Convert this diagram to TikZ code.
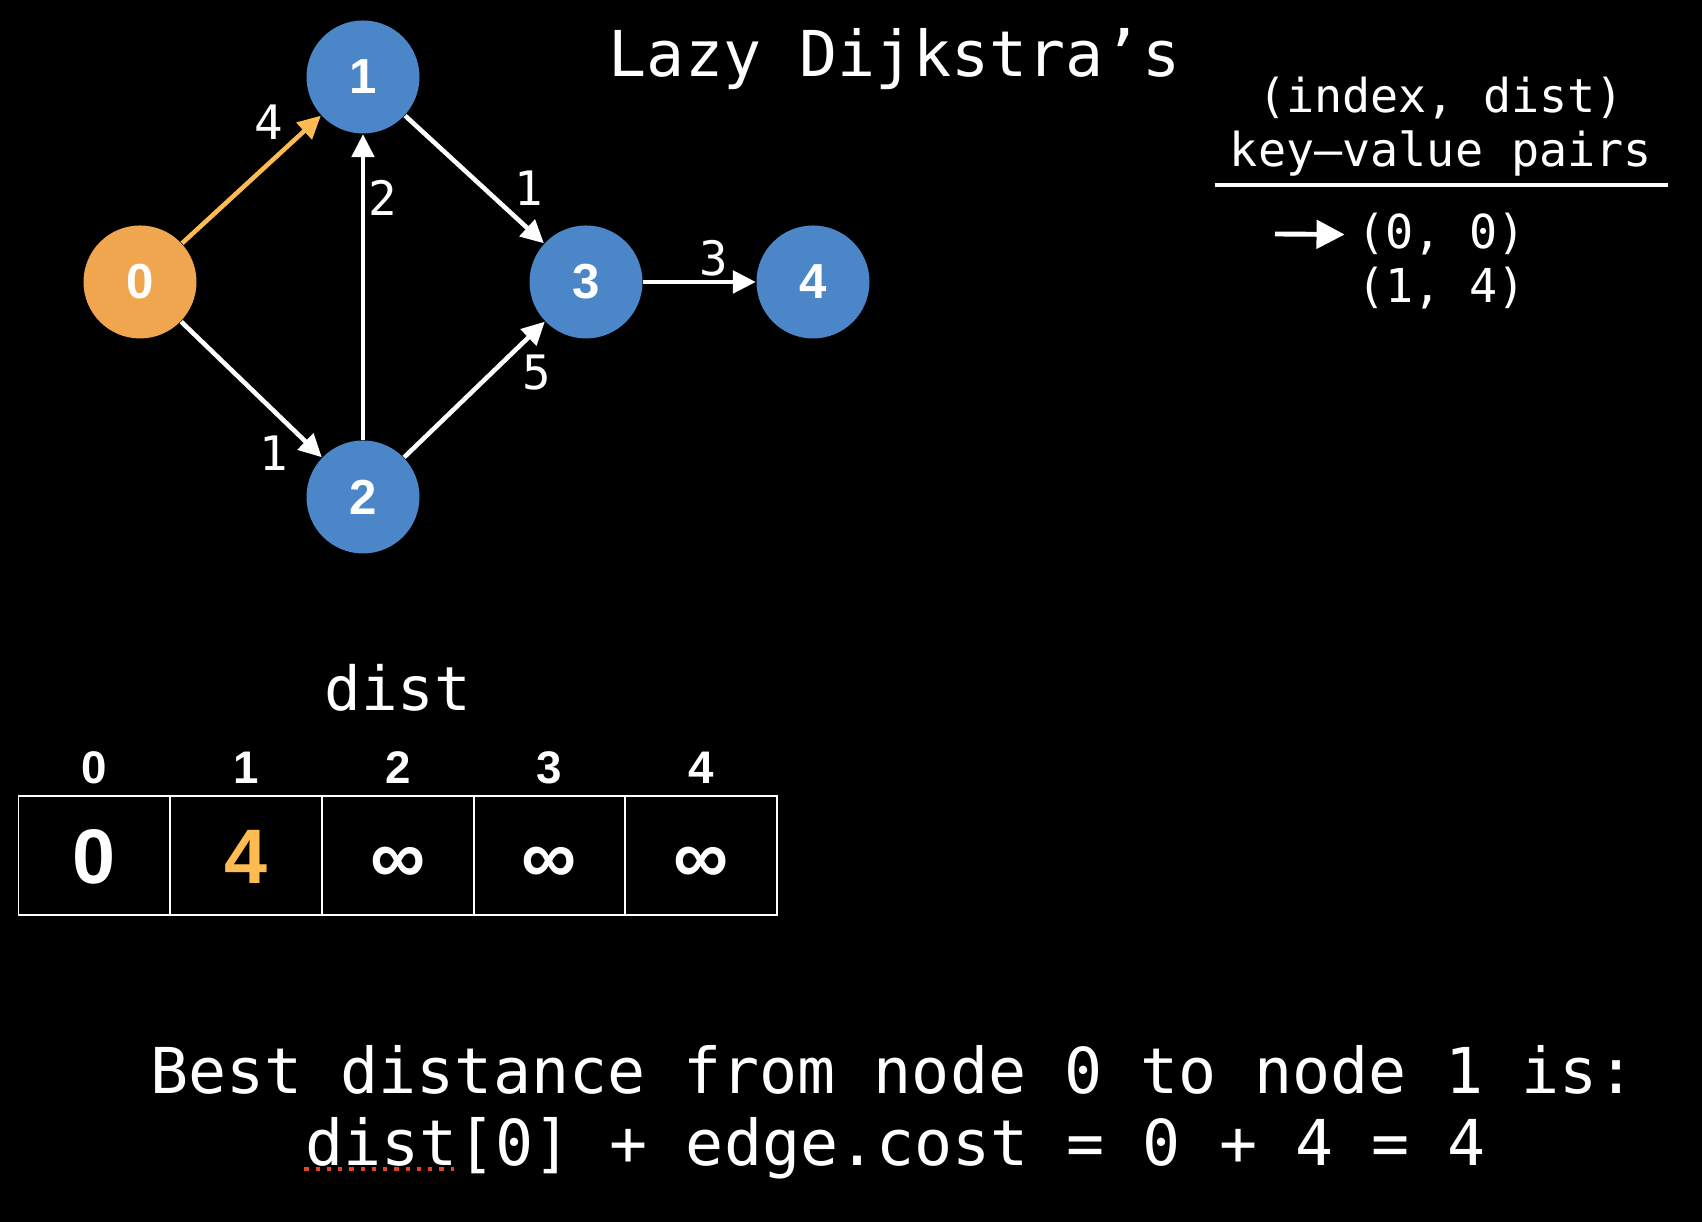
\documentclass[tikz,border=0pt]{standalone}
\usepackage{fontspec}
\setmainfont{Liberation Sans}
\setmonofont{DejaVu Sans Mono}
\usepackage{tikz}
\usetikzlibrary{positioning,arrows.meta,calc}
\definecolor{vxblue}{HTML}{4A86C8}
\definecolor{vxorange}{HTML}{F0A64E}
\definecolor{hlorange}{HTML}{FDBB52}
\definecolor{spellred}{HTML}{E0452F}
\tikzset{
    vertex/.style={circle,fill=vxblue,minimum size=11.3mm,inner sep=0pt,text=white,font=\fontsize{14}{14}\selectfont\bfseries},
    srcvertex/.style={vertex,fill=vxorange},
    every edge/.style={draw=white,->,>={Triangle[length=6.5pt,width=6.3pt]},line width=1.3pt},
    weight/.style={text=white,inner sep=1pt,font=\fontsize{13.5}{13.5}\selectfont\ttfamily},
    cell/.style={draw=white,line width=0.5pt,outer sep=0pt,minimum width=15.17mm,minimum height=11.9mm,inner sep=0pt,text height=15.8pt,text depth=0pt,text=white,font=\fontsize{22}{22}\selectfont\bfseries},
    idx/.style={text=white,inner sep=0pt,font=\fontsize{13}{13}\selectfont\bfseries},
    mono/.style={text=white,inner sep=0pt,font=\fontsize{18}{22}\selectfont\ttfamily},
    pq/.style={text=white,font=\fontsize{13.3}{15}\selectfont\ttfamily},
}

\begin{document}
\begin{tikzpicture}[auto]
    \path[fill=black,use as bounding box] (0,0) rectangle (17.02,12.22);

    % graph
    \node[srcvertex] (v0) at (1.40,9.40) {0};
    \node[vertex] (v1) at (3.63,11.45) {1};
    \node[vertex] (v2) at (3.63,7.25) {2};
    \node[vertex] (v3) at (5.86,9.40) {3};
    \node[vertex] (v4) at (8.13,9.40) {4};

    \path
    (v0) edge[draw=hlorange] node[weight,pos=0.77] {4} (v1)
    (v0) edge node[weight,swap,pos=0.8] {1} (v2)
    (v2) edge node[weight,swap,pos=0.79] {2} (v1)
    (v1) edge node[weight,pos=0.75] {1} (v3)
    (v2) edge node[weight,swap,pos=0.8] {5} (v3)
    (v3) edge node[weight,pos=0.63] {3} (v4);

    \node[mono,anchor=base] (title) at (8.945,11.45) {Lazy Dijkstra’s};

    % priority queue
    \node[pq,anchor=base] (hdr1) at (14.41,11.09) {(index, dist)};
    \node[pq,anchor=base] (hdr2) at (14.41,10.55) {key–value pairs};
    \coordinate (ulL) at (12.15,10.37);
    \coordinate (ulR) at (16.68,10.37);
    \draw[white,line width=1pt] (ulL) -- (ulR);
    \node[pq,anchor=base] (pq0) at (14.415,9.73) {(0, 0)};
    \node[pq,anchor=base] (pq1) at (14.415,9.19) {(1, 4)};
    \coordinate (ptr) at (12.75,9.88);
    \draw[white,line width=1.4pt,-{Triangle[length=8pt,width=8pt]}] (ptr) -- (pq0.west);

    % dist array
    \node[cell] (c0) at (0.944,3.665) {0};
    \node[cell,right=0pt of c0,text=hlorange] (c1) {4};
    \node[cell,right=0pt of c1] (c2) {∞};
    \node[cell,right=0pt of c2] (c3) {∞};
    \node[cell,right=0pt of c3] (c4) {∞};
    \node[idx,anchor=base] (i0) at ($(c0.north)+(0,1.2mm)$) {0};
    \node[idx,anchor=base] (i1) at ($(c1.north)+(0,1.2mm)$) {1};
    \node[idx,anchor=base] (i2) at ($(c2.north)+(0,1.2mm)$) {2};
    \node[idx,anchor=base] (i3) at ($(c3.north)+(0,1.2mm)$) {3};
    \node[idx,anchor=base] (i4) at ($(c4.north)+(0,1.2mm)$) {4};
    \node[mono,anchor=base,font=\fontsize{17.3}{20}\selectfont\ttfamily] (distlbl) at (3.978,5.11) {dist};

    % explanation
    \node[mono,anchor=base] (best) at (8.93,1.28) {Best distance from node 0 to node 1 is:};
    \node[mono,anchor=base] (costline) at (8.955,0.56) {dist[0] + edge.cost = 0 + 4 = 4};
    \draw[spellred,dotted,line width=1.2pt] ($(costline.base west)+(0,-0.03)$) -- ($(costline.base west)+(1.5,-0.03)$);
\end{tikzpicture}
\end{document}
